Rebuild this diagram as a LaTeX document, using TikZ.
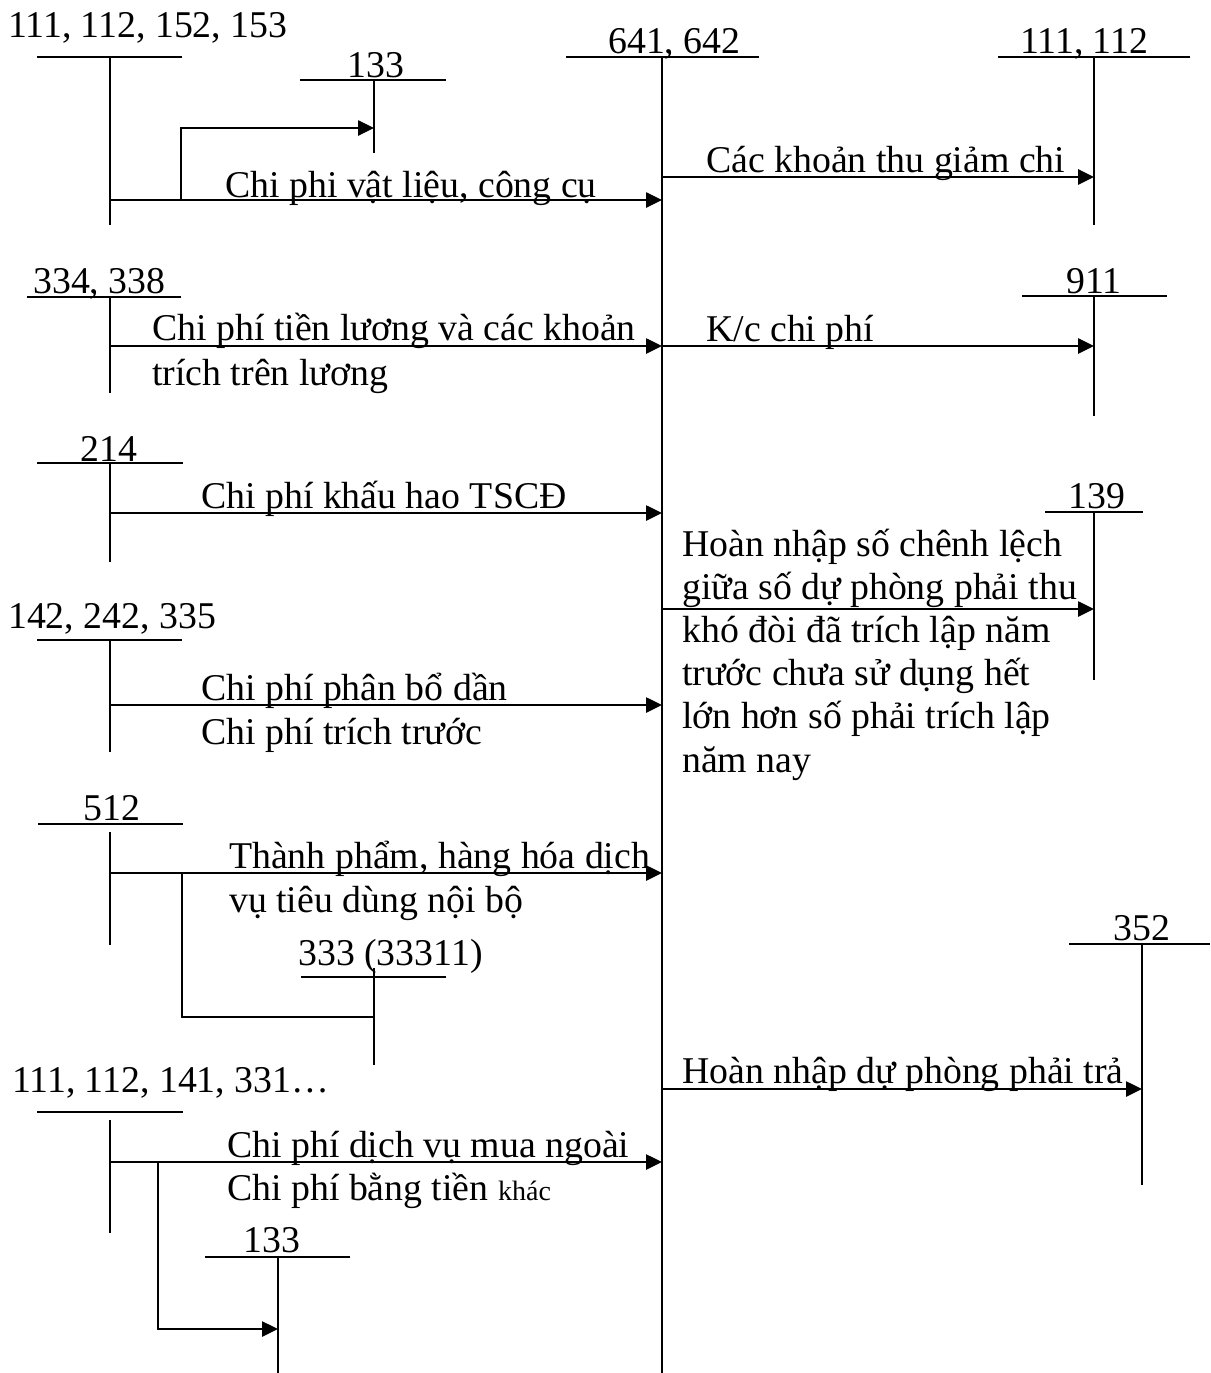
\documentclass[tikz,border=0pt]{standalone}
\usepackage{fontspec}
\setmainfont{Liberation Serif}
\usetikzlibrary{arrows.meta}
\begin{document}
\begin{tikzpicture}[x=1pt,y=-1pt,
  tline/.style={line width=1.9pt},
  vline/.style={line width=2.1pt},
  flow/.style={line width=2.6pt,-{Triangle[length=16pt,width=15pt]}},
  link/.style={line width=2.3pt},
  txt/.style={anchor=base west,inner sep=0pt,font=\fontsize{37.8}{44}\selectfont},
]
\useasboundingbox (0,0) rectangle (1210,1373);

% ---------- account 641, 642 (central) ----------
\node[txt] (t641) at (608,53) {641, 642};
\draw[tline] (566,57) coordinate (h641a) -- (759,57) coordinate (h641b);
\draw[vline] (662,57) coordinate (c641top) -- (662,1373) coordinate (c641bot);

% ---------- 111, 112, 152, 153 ----------
\node[txt] (t1) at (8,37) {111, 112, 152, 153};
\draw[tline] (37,57) coordinate (h1a) -- (182,57) coordinate (h1b);
\draw[vline] (110,57) coordinate (v1top) -- (110,225) coordinate (v1bot);

% 133 (top)
\node[txt] (t133a) at (347,77) {133};
\draw[tline] (300,80) coordinate (h133a) -- (446,80) coordinate (h133b);
\draw[vline] (374,80) coordinate (v133top) -- (374,153) coordinate (v133bot);

\coordinate (s1) at (110,200);
\coordinate (e1) at (662,200);
\coordinate (b1) at (181,200);
\coordinate (b1up) at (181,128);
\coordinate (e133a) at (374,128);
\node[txt] (l1) at (225,197) {Chi phi vật liệu, công cụ};
\draw[flow] (s1) -- (e1);
\draw[flow] (b1) -- (b1up) -- (e133a);

% ---------- 111, 112 (right) ----------
\node[txt] (t111r) at (1020,53) {111, 112};
\draw[tline] (998,57) coordinate (h111a) -- (1190,57) coordinate (h111b);
\draw[vline] (1094,57) coordinate (v111top) -- (1094,225) coordinate (v111bot);
\coordinate (s2) at (662,177);
\coordinate (e2) at (1094,177);
\node[txt] (l2) at (706,172) {Các khoản thu giảm chi};
\draw[flow] (s2) -- (e2);

% ---------- 334, 338 ----------
\node[txt] (t334) at (33,293) {334, 338};
\draw[tline] (27,297) coordinate (h334a) -- (181,297) coordinate (h334b);
\draw[vline] (110,297) coordinate (v334top) -- (110,393) coordinate (v334bot);
\coordinate (s3) at (110,346);
\coordinate (e3) at (662,346);
\node[txt] (l3a) at (152,340) {Chi phí tiền lương và các khoản};
\node[txt] (l3b) at (152,385) {trích trên lương};
\draw[flow] (s3) -- (e3);

% ---------- 911 ----------
\node[txt] (t911) at (1066,293) {911};
\draw[tline] (1022,296) coordinate (h911a) -- (1167,296) coordinate (h911b);
\draw[vline] (1094,296) coordinate (v911top) -- (1094,416) coordinate (v911bot);
\coordinate (s4) at (662,346);
\coordinate (e4) at (1094,346);
\node[txt] (l4) at (706,341) {K/c chi phí};
\draw[flow] (s4) -- (e4);

% ---------- 214 ----------
\node[txt] (t214) at (80,461) {214};
\draw[tline] (37,463) coordinate (h214a) -- (183,463) coordinate (h214b);
\draw[vline] (110,463) coordinate (v214top) -- (110,562) coordinate (v214bot);
\coordinate (s5) at (110,513);
\coordinate (e5) at (662,513);
\node[txt] (l5) at (201,508) {Chi phí khấu hao TSCĐ};
\draw[flow] (s5) -- (e5);

% ---------- 139 ----------
\node[txt] (t139) at (1068,508) {139};
\draw[tline] (1045,512) coordinate (h139a) -- (1143,512) coordinate (h139b);
\draw[vline] (1094,512) coordinate (v139top) -- (1094,680) coordinate (v139bot);
\coordinate (s6) at (662,609);
\coordinate (e6) at (1094,609);
\node[txt] (l6a) at (682,556) {Hoàn nhập số chênh lệch};
\node[txt] (l6b) at (682,599) {giữa số dự phòng phải thu};
\node[txt] (l6c) at (682,642) {khó đòi đã trích lập năm};
\node[txt] (l6d) at (682,685) {trước chưa sử dụng hết};
\node[txt] (l6e) at (682,728) {lớn hơn số phải trích lập};
\node[txt] (l6f) at (682,772) {năm nay};
\draw[flow] (s6) -- (e6);

% ---------- 142, 242, 335 ----------
\node[txt] (t142) at (8,628) {142, 242, 335};
\draw[tline] (37,640) coordinate (h142a) -- (182,640) coordinate (h142b);
\draw[vline] (110,640) coordinate (v142top) -- (110,752) coordinate (v142bot);
\coordinate (s7) at (110,705);
\coordinate (e7) at (662,705);
\node[txt] (l7a) at (201,700) {Chi phí phân bổ dần};
\node[txt] (l7b) at (201,744) {Chi phí trích trước};
\draw[flow] (s7) -- (e7);

% ---------- 512 ----------
\node[txt] (t512) at (83,820) {512};
\draw[tline] (38,824) coordinate (h512a) -- (183,824) coordinate (h512b);
\draw[vline] (110,832) coordinate (v512top) -- (110,945) coordinate (v512bot);
\coordinate (s8) at (110,873);
\coordinate (e8) at (662,873);
\coordinate (b8) at (182,873);
\coordinate (b8dn) at (182,1017);
\coordinate (e333) at (374,1017);
\node[txt] (l8a) at (229,868) {Thành phẩm, hàng hóa dịch};
\node[txt] (l8b) at (229,912) {vụ tiêu dùng nội bộ};
\draw[flow] (s8) -- (e8);
\draw[link] (b8) -- (b8dn) -- (e333);

% 333 (33311)
\node[txt] (t333) at (298,965) {333 (33311)};
\draw[tline] (301,977) coordinate (h333a) -- (446,977) coordinate (h333b);
\draw[vline] (374,968) coordinate (v333top) -- (374,1065) coordinate (v333bot);

% ---------- 111, 112, 141, 331... ----------
\node[txt] (t111b) at (12,1092) {111, 112, 141, 331…};
\draw[tline] (37,1112) coordinate (h111ba) -- (183,1112) coordinate (h111bb);
\draw[vline] (110,1120) coordinate (v111btop) -- (110,1233) coordinate (v111bbot);
\coordinate (s9) at (110,1162);
\coordinate (e9) at (662,1162);
\coordinate (b9) at (158,1162);
\coordinate (b9dn) at (158,1329);
\coordinate (e133b) at (278,1329);
\node[txt] (l9a) at (227,1157) {Chi phí dịch vụ mua ngoài};
\node[txt] (l9b) at (227,1200) {Chi phí bằng tiền {\fontsize{28}{34}\selectfont khác}};
\draw[flow] (s9) -- (e9);
\draw[flow] (b9) -- (b9dn) -- (e133b);

% 133 (bottom)
\node[txt] (t133b) at (243,1252) {133};
\draw[tline] (205,1257) coordinate (h133ba) -- (350,1257) coordinate (h133bb);
\draw[vline] (278,1257) coordinate (v133btop) -- (278,1373) coordinate (v133bbot);

% ---------- 352 ----------
\node[txt] (t352) at (1113,940) {352};
\draw[tline] (1069,944) coordinate (h352a) -- (1210,944) coordinate (h352b);
\draw[vline] (1142,944) coordinate (v352top) -- (1142,1185) coordinate (v352bot);
\coordinate (s10) at (662,1089);
\coordinate (e10) at (1142,1089);
\node[txt] (l10) at (682,1083) {Hoàn nhập dự phòng phải trả};
\draw[flow] (s10) -- (e10);
\end{tikzpicture}
\end{document}
